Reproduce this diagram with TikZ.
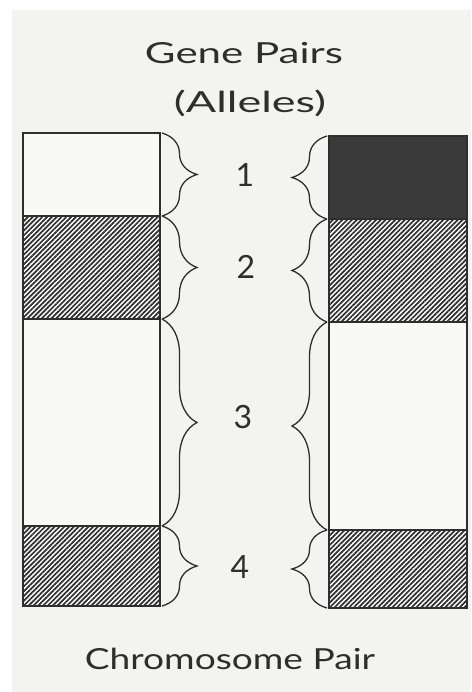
\documentclass[tikz,border=0pt]{standalone}
\usepackage{fontspec}
\setmainfont{Lato}
\usetikzlibrary{patterns.meta,decorations.pathreplacing}
\definecolor{paper}{HTML}{F3F3F1}
\definecolor{bandpaper}{HTML}{F9F9F7}
\definecolor{ink}{HTML}{2E2E2E}
\definecolor{darkband}{HTML}{3A3A3A}
\begin{document}
\begin{tikzpicture}[x=1pt,y=-1pt,
  band/.style={draw=ink, line width=1.3pt, inner sep=0pt, outer sep=0pt, anchor=north west, minimum width=#1},
  band/.default=137pt,
  plainband/.style={fill=bandpaper},
  hatchband/.style={fill=white, postaction={pattern={Lines[angle=45,distance=3.4pt,line width=1.7pt]}, pattern color=ink}},
  solidband/.style={fill=darkband},
  bracel/.style={draw=ink, line width=1.3pt, decorate, decoration={brace, amplitude=35pt}},
  lbl/.style={text=ink, font=\fontsize{32}{32}\selectfont, inner sep=0pt},
  ttl/.style={text=ink, font=\fontsize{29}{29}\selectfont, inner sep=0pt}
]
\useasboundingbox (0,0) rectangle (471,692);
\fill[white] (0,0) rectangle (471,692);
\fill[paper] (12,10) rectangle (471,692);

% titles
\node[ttl, xscale=1.45] (title1) at (244,53) {Gene Pairs};
\node[ttl, xscale=1.55] (title2) at (250,103) {(Alleles)};
\node[ttl, xscale=1.28] (title3) at (230,659) {Chromosome Pair};

% left chromosome
\node[band, plainband, minimum height=83pt] (L1) at (23,133) {};
\node[band, hatchband, minimum height=103pt] (L2) at (23,216) {};
\node[band, plainband, minimum height=207pt] (L3) at (23,319) {};
\node[band, hatchband, minimum height=80pt] (L4) at (23,526) {};

% right chromosome
\node[band=138pt, solidband, minimum height=83pt] (R1) at (329,136) {};
\node[band=138pt, hatchband, minimum height=103pt] (R2) at (329,219) {};
\node[band=138pt, plainband, minimum height=208pt] (R3) at (329,322) {};
\node[band=138pt, hatchband, minimum height=78pt] (R4) at (329,530) {};

% braces
\foreach \n in {1,2,3,4}{
  \draw[bracel] ([xshift=2pt]L\n.north east) -- ([xshift=2pt]L\n.south east);
  \draw[bracel] ([xshift=-2pt]R\n.south west) -- ([xshift=-2pt]R\n.north west);
}

% numbers
\node[lbl] (n1) at (245,175) {1};
\node[lbl] (n2) at (246,267) {2};
\node[lbl] (n3) at (243,417) {3};
\node[lbl] (n4) at (240,567) {4};
\end{tikzpicture}
\end{document}
